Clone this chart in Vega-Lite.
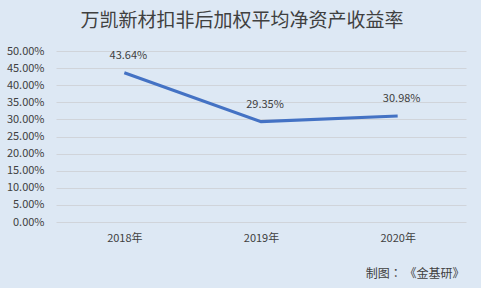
{
  "$schema": "https://vega.github.io/schema/vega-lite/v6.json",
  "autosize": "none",
  "width": 410,
  "height": 171,
  "padding": {"left": 56, "top": 51, "right": 15, "bottom": 66},
  "background": "#dde8f4",
  "config": {
    "view": {"stroke": null},
    "font": "Noto Sans CJK SC"
  },
  "title": {
    "text": "万凯新材扣非后加权平均净资产收益率",
    "fontSize": 19,
    "fontWeight": "normal",
    "color": "#404040",
    "anchor": "middle",
    "frame": "group",
    "dx": -19,
    "offset": 14
  },
  "data": {
    "values": [
      {"year": "2018年", "roe": 43.64, "label": "43.64%"},
      {"year": "2019年", "roe": 29.35, "label": "29.35%"},
      {"year": "2020年", "roe": 30.98, "label": "30.98%"}
    ]
  },
  "encoding": {
    "x": {
      "field": "year",
      "type": "ordinal",
      "scale": {"paddingInner": 0, "paddingOuter": 0.5},
      "axis": {
        "labelAngle": 0,
        "domain": false,
        "ticks": false,
        "labelFontSize": 11,
        "labelColor": "#404040",
        "labelPadding": 10,
        "title": "制图： 《金基研》",
        "titleFont": "Noto Sans CJK TC",
        "titleFontSize": 12,
        "titleFontWeight": "normal",
        "titleColor": "#404040",
        "titleAnchor": "end",
        "titleAlign": "right",
        "titleLimit": 300,
        "titleX": 408,
        "titleY": 51,
        "titleBaseline": "middle"
      }
    },
    "y": {
      "field": "roe",
      "type": "quantitative",
      "scale": {"domain": [0, 50]},
      "axis": {
        "values": [0, 5, 10, 15, 20, 25, 30, 35, 40, 45, 50],
        "labelExpr": "format(datum.value / 100, '.2%')",
        "domain": false,
        "ticks": false,
        "gridColor": "#d0d4da",
        "labelFontSize": 11,
        "labelColor": "#404040",
        "labelPadding": 12,
        "title": null
      }
    }
  },
  "layer": [
    {
      "mark": {"type": "line", "color": "#4472c4", "strokeWidth": 3}
    },
    {
      "mark": {"type": "text", "fontSize": 11, "color": "#404040", "dy": -17, "dx": 4},
      "encoding": {"text": {"field": "label"}}
    }
  ]
}
